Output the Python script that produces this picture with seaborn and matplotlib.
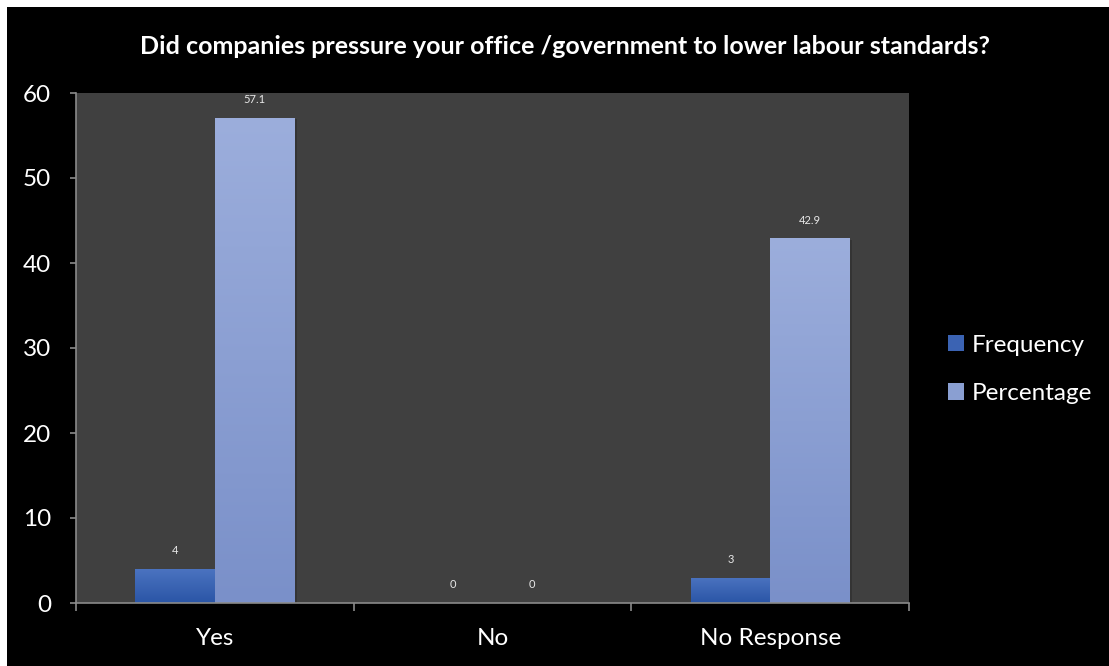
import numpy as np
import pandas as pd
import matplotlib
matplotlib.use("Agg")
import matplotlib.pyplot as plt
from matplotlib.patches import Rectangle
from matplotlib.colors import LinearSegmentedColormap
import matplotlib.patheffects as pe
import seaborn as sns

# Survey responses
categories = ["Yes", "No", "No Response"]
frequency = [4, 0, 3]
percentage = [57.1, 0, 42.9]
series_names = ["Frequency", "Percentage"]
title = "Did companies pressure your office /government to lower labour standards?"

df = pd.DataFrame({
    "Response": categories * 2,
    "Series": [series_names[0]] * 3 + [series_names[1]] * 3,
    "Value": frequency + percentage,
})

sns.set_theme(style="dark")
plt.rcParams["font.family"] = ["Lato", "DejaVu Sans"]

fig = plt.figure(figsize=(11.09, 6.66), dpi=100)
fig.patch.set_facecolor("white")
# black panel inside a thin white margin on the top and left
fig.patches.append(Rectangle((7 / 1109, 0), 1, 1 - 7 / 666, transform=fig.transFigure,
                             facecolor="black", edgecolor="none", zorder=-10))

ax = fig.add_axes([76 / 1109, 63 / 666, 833 / 1109, 510 / 666])
ax.set_facecolor("#404040")

palette = {"Frequency": "#3b63b3", "Percentage": "#8a9fd2"}
sns.barplot(data=df, x="Response", y="Value", hue="Series", order=categories,
            hue_order=series_names, palette=palette, width=0.573, saturation=1,
            ax=ax, legend=True)

# vertical colour gradients on the bars
grads = {
    "Frequency": ("#2a55a6", "#4b73c0"),
    "Percentage": ("#7a90c9", "#9caedc"),
}
for container, name in zip(ax.containers, series_names):
    lo, hi = grads[name]
    cmap = LinearSegmentedColormap.from_list(name, [lo, hi])
    for patch in container.patches:
        x0, y0 = patch.get_x(), patch.get_y()
        w, h = patch.get_width(), patch.get_height()
        patch.set_edgecolor("none")
        if h <= 0:
            continue
        patch.set_path_effects([pe.SimplePatchShadow(offset=(2, -1), alpha=0.18, shadow_rgbFace="black"),
                                pe.Normal()])
        grad = np.linspace(0, 1, 256).reshape(-1, 1)
        im = ax.imshow(grad, cmap=cmap, origin="lower", aspect="auto",
                       extent=(x0, x0 + w, y0, y0 + h), zorder=patch.get_zorder() + 0.1)
        im.set_clip_path(patch)
    ax.bar_label(container, labels=[f"{v:g}" for v in container.datavalues],
                 padding=9, color="#e8e8e8", fontsize=8)

ax.set_ylim(0, 60)
ax.set_xlim(-0.5, 2.5)

fig.text(565 / 1109, 1 - 47 / 666, title, color="white", fontsize=18,
         fontweight="bold", ha="center", va="center")
ax.set_xlabel("")
ax.set_ylabel("")
ax.set_yticks(range(0, 61, 10))
ax.grid(False)

for side in ["top", "right"]:
    ax.spines[side].set_visible(False)
for side in ["left", "bottom"]:
    ax.spines[side].set_visible(True)
    ax.spines[side].set_color("#8a8a8a")
    ax.spines[side].set_linewidth(1.2)

ax.tick_params(axis="y", colors="#8a8a8a", labelcolor="white", labelsize=17.5,
               length=4, width=1.2, direction="out", left=True, pad=14)
ax.tick_params(axis="x", which="major", labelcolor="white", labelsize=17.5,
               length=0, pad=18)
ax.set_xticks([-0.5, 0.5, 1.5, 2.5], minor=True)
ax.tick_params(axis="x", which="minor", colors="#8a8a8a", length=6, width=1.2,
               direction="out", bottom=True)

leg = ax.legend(loc="center left", bbox_to_anchor=(1.035, 0.458), frameon=False,
                fontsize=17.5, labelcolor="white", handlelength=0.65, handleheight=0.65,
                handletextpad=0.35, labelspacing=1.12, borderaxespad=0)
for h, name in zip(leg.legend_handles, series_names):
    h.set_facecolor(palette[name])
    h.set_edgecolor("none")

fig.savefig("out.png", dpi=100, facecolor=fig.get_facecolor())
